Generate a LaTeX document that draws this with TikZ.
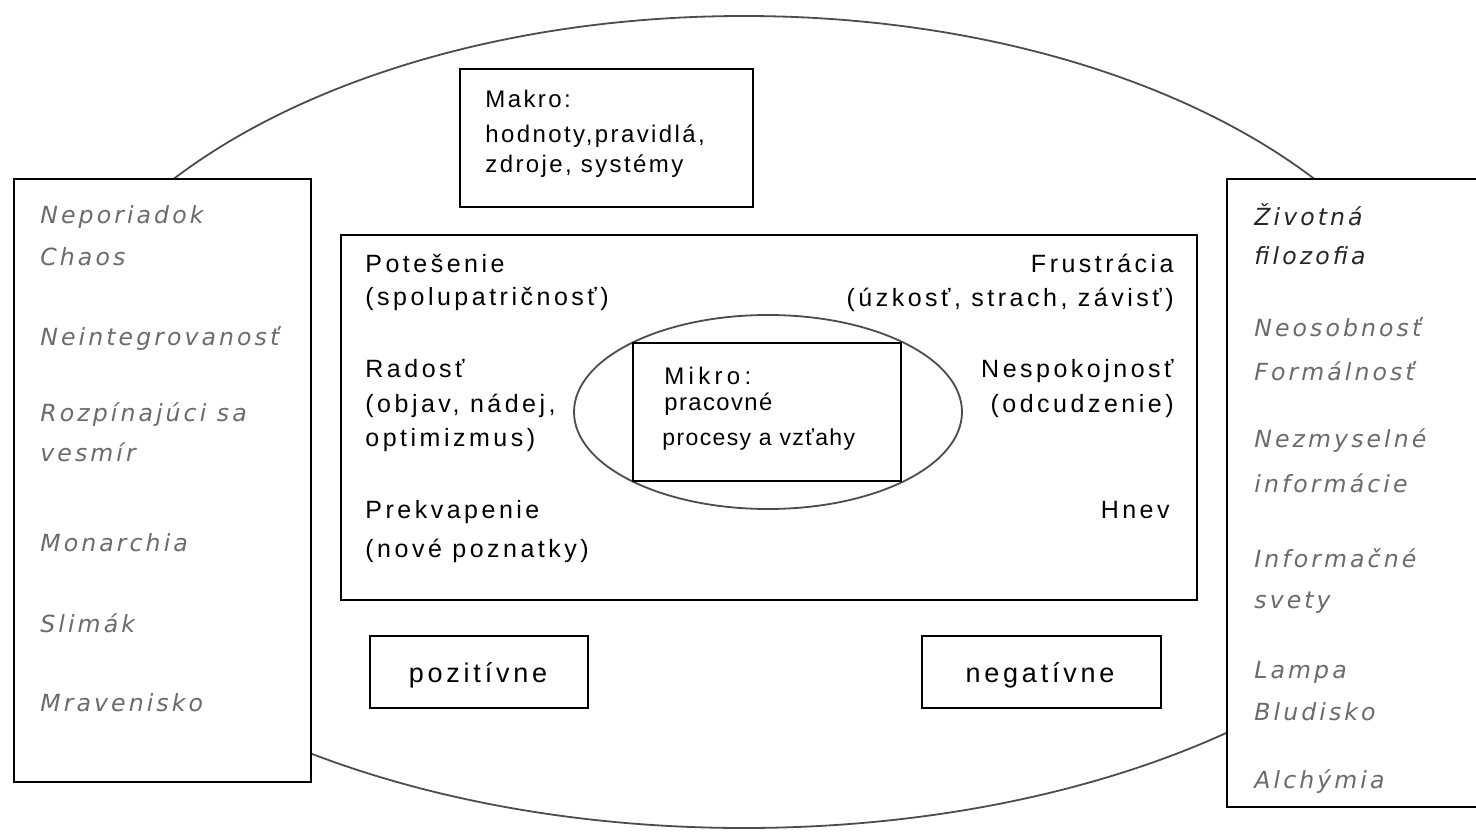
\documentclass[tikz,border=0pt]{standalone}
\usepackage{fontspec}
\setmainfont{Liberation Sans}
\newfontfamily\emofont[LetterSpace=14]{Liberation Sans}
\newfontfamily\makrofont[LetterSpace=10]{Liberation Sans}
\newfontfamily\mikrofont[LetterSpace=18]{Liberation Sans}
\newfontfamily\procfont[LetterSpace=6]{Liberation Sans}
\newfontfamily\sidefont[LetterSpace=13]{DejaVu Sans}

\begin{document}
\begin{tikzpicture}[x=0.5pt, y=-0.5pt,
    frame/.style={draw=black, line width=1.2pt, fill=white},
    ring/.style={draw=black!70, line width=0.9pt},
    sidetxt/.style={inner sep=0pt, anchor=base west, text=black!58,
        font={\sidefont\itshape\fontsize{11.8}{14}\selectfont}},
    darktxt/.style={sidetxt, text=black!85},
    emoleft/.style={inner sep=0pt, anchor=base west,
        font={\emofont\fontsize{12.5}{15}\selectfont}},
    emoright/.style={emoleft, anchor=base east},
    makrotxt/.style={inner sep=0pt, anchor=base west,
        font={\makrofont\fontsize{12}{14}\selectfont}},
    labeltxt/.style={inner sep=0pt, anchor=base,
        font={\emofont\fontsize{13.5}{16}\selectfont}}]
    \useasboundingbox (0,0) rectangle (1476,833);

    % outer ellipse (upper and lower half) and the two side panels
    \begin{scope}
        \clip (14,0) rectangle (1476,833);
        \draw[ring] (32,422) arc[start angle=180, end angle=0, x radius=356pt, y radius=203pt];
        \draw[ring] (1494,422) arc[start angle=0, end angle=-180, x radius=375pt, y radius=203pt];
    \end{scope}
    \draw[frame] (14,179) rectangle (311,782);
    \draw[frame] (1227,179) rectangle (1500,807);

    % makro, emotions, mikro
    \draw[frame] (460,69) rectangle (753,207);
    \draw[frame] (341,235) rectangle (1197,600);
    \draw[ring] (768,412) ellipse [x radius=97pt, y radius=48.5pt];
    \draw[frame] (633,343) rectangle (901,481);

    % positive / negative
    \draw[frame] (370,636) rectangle (588,708);
    \draw[frame] (922,636) rectangle (1161,708);

    % left panel
    \node[sidetxt] (neporiadok) at (40,224) {Neporiadok};
    \node[sidetxt] (chaos) at (40,266) {Chaos};
    \node[sidetxt] (neintegr) at (40,346) {Neintegrovanosť};
    \node[sidetxt] (rozpin) at (40,422) {Rozpínajúci sa};
    \node[sidetxt] (vesmir) at (40,462) {vesmír};
    \node[sidetxt] (monarchia) at (40,551) {Monarchia};
    \node[sidetxt] (slimak) at (40,632) {Slimák};
    \node[sidetxt] (mravenisko) at (40,711) {Mravenisko};

    % right panel
    \node[darktxt] (zivotna) at (1254,226) {Životná};
    \node[darktxt] (filozofia) at (1254,265) {filozofia};
    \node[sidetxt] (neosob) at (1254,337) {Neosobnosť};
    \node[sidetxt] (formal) at (1254,381) {Formálnosť};
    \node[sidetxt] (nezmysel) at (1254,448) {Nezmyselné};
    \node[sidetxt] (inform) at (1254,492) {informácie};
    \node[sidetxt] (informac) at (1254,567) {Informačné};
    \node[sidetxt] (svety) at (1254,608) {svety};
    \node[sidetxt] (lampa) at (1254,678) {Lampa};
    \node[sidetxt] (bludisko) at (1254,720) {Bludisko};
    \node[sidetxt] (alchymia) at (1254,788) {Alchýmia};

    % makro
    \node[makrotxt] (makro) at (485,108) {Makro:};
    \node[makrotxt] (hodnoty) at (485,143) {hodnoty,pravidlá,};
    \node[makrotxt] (zdroje) at (485,173) {zdroje, systémy};

    % emotions, left column
    \node[emoleft] (potesenie) at (365,273) {Potešenie};
    \node[emoleft] (spolupat) at (365,306) {(spolupatričnosť)};
    \node[emoleft] (radost) at (365,378) {Radosť};
    \node[emoleft] (objav) at (365,413) {(objav, nádej,};
    \node[emoleft] (optim) at (365,447) {optimizmus)};
    \node[emoleft] (prekvap) at (365,518) {Prekvapenie};
    \node[emoleft] (nove) at (365,557) {(nové poznatky)};

    % emotions, right column
    \node[emoright] (frustr) at (1174,273) {Frustrácia};
    \node[emoright] (uzkost) at (1174,307) {(úzkosť, strach, závisť)};
    \node[emoright] (nespok) at (1174,378) {Nespokojnosť};
    \node[emoright] (odcudz) at (1174,413) {(odcudzenie)};
    \node[emoright] (hnev) at (1170,518) {Hnev};

    % mikro
    \node[inner sep=0pt, anchor=base west, font={\mikrofont\fontsize{12}{14}\selectfont}] (mikro) at (664,385) {Mikro:};
    \node[inner sep=0pt, anchor=base west, font={\procfont\fontsize{11.9}{14}\selectfont}] (pracovne) at (664,411) {pracovné};
    \node[inner sep=0pt, anchor=base west, font={\procfont\fontsize{11.5}{14}\selectfont}] (procesy) at (662,446) {procesy a vzťahy};

    \node[labeltxt] (pozit) at (478,682) {pozitívne};
    \node[labeltxt] (negat) at (1040,682) {negatívne};
\end{tikzpicture}
\end{document}
